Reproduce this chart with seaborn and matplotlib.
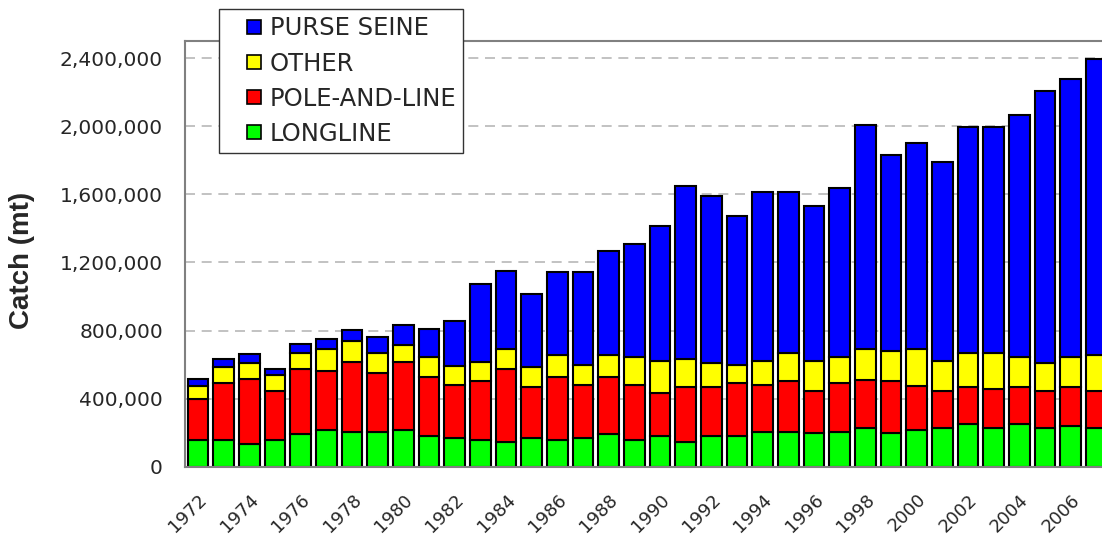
import numpy as np
import pandas as pd
import seaborn as sns
import matplotlib.pyplot as plt
from matplotlib.lines import Line2D
from matplotlib.ticker import FuncFormatter

# catch by gear, metric tons
years = list(range(1972, 2008))
longline = [159, 159, 135, 159, 194, 218, 206, 206, 218, 184, 172, 159,
            149, 172, 159, 169, 196, 159, 182, 149, 182, 182, 204, 204,
            198, 208, 231, 198, 218, 231, 253, 231, 253, 231, 241, 231]
pole_and_line = [239, 333, 381, 288, 381, 343, 413, 345, 401, 344, 308, 343,
                 426, 297, 370, 311, 333, 321, 252, 320, 287, 310, 276, 300,
                 249, 284, 281, 304, 260, 212, 216, 226, 216, 216, 228, 216]
other = [80, 92, 94, 90, 94, 131, 120, 116, 97, 115, 114, 117,
         117, 117, 126, 116, 126, 165, 189, 164, 141, 104, 143, 165,
         176, 153, 180, 180, 214, 180, 200, 212, 176, 163, 176, 208]
purse_seine = [38, 51, 51, 39, 50, 59, 63, 98, 119, 169, 265, 453,
               461, 430, 488, 547, 615, 661, 790, 1016, 982, 876, 993, 947,
               908, 994, 1316, 1147, 1208, 1169, 1325, 1325, 1420, 1596, 1633, 1741]
y_ticks = [0, 400000, 800000, 1200000, 1600000, 2000000, 2400000]

df = pd.DataFrame({
    'year': [str(y) for y in years],
    'LONGLINE': np.array(longline) * 1000,
    'POLE-AND-LINE': np.array(pole_and_line) * 1000,
    'OTHER': np.array(other) * 1000,
    'PURSE SEINE': np.array(purse_seine) * 1000,
})

sns.set_style('white')
plt.rcParams['font.family'] = ['DejaVu Sans']

fig = plt.figure(figsize=(11.02, 5.39), dpi=100)
ax = fig.add_axes([0.168, 0.1336, 0.8385, 0.7904])

layers = [('LONGLINE', '#00ff00'), ('POLE-AND-LINE', '#ff0000'),
          ('OTHER', '#ffff00'), ('PURSE SEINE', '#0000ff')]
bottom = np.zeros(len(df))
for name, color in layers:
    sns.barplot(data=df, x='year', y=name, color=color, saturation=1,
                width=0.81, bottom=bottom, edgecolor='black', linewidth=1.5,
                errorbar=None, ax=ax)
    bottom = bottom + df[name].to_numpy()

ax.set_xlim(-0.5, len(years) - 0.5)
ax.set_ylim(0, 2500000)
ax.set_yticks(y_ticks)
ax.yaxis.set_major_formatter(FuncFormatter(lambda v, p: f'{v:,.0f}'))
ax.set_xticks(range(0, len(years), 2))
ax.set_xticklabels([str(y) for y in years[::2]], rotation=45, ha='right',
                   rotation_mode='anchor')
ax.tick_params(axis='y', direction='in', length=4, color='#808080',
               labelsize=14.5, pad=16)
ax.tick_params(axis='x', length=0, labelsize=13, pad=17)

ax.set_axisbelow(True)
ax.yaxis.grid(True, linestyle=(0, (6, 4)), color='#b8b8b8', linewidth=1.2)
ax.xaxis.grid(False)
for spine in ax.spines.values():
    spine.set_visible(True)
    spine.set_color('#808080')
    spine.set_linewidth(1.5)

ax.set_xlabel('')
ax.set_ylabel('Catch (mt)', fontsize=20, fontweight='bold',
              family=['Liberation Sans', 'DejaVu Sans'])
ax.yaxis.set_label_coords(-0.163, 0.484)

handles = [Line2D([], [], linestyle='none', marker='s', markersize=10,
                  markerfacecolor=c, markeredgecolor='black', markeredgewidth=1.2)
           for _, c in layers[::-1]]
labels = [n for n, _ in layers[::-1]]
leg = fig.legend(handles, labels, loc='upper left',
                 bbox_to_anchor=(0.1987, 0.983), bbox_transform=fig.transFigure,
                 borderaxespad=0, fontsize=17.5, frameon=True, fancybox=False,
                 edgecolor='#333333', framealpha=1, numpoints=1,
                 handlelength=2.28, handletextpad=-0.5, labelspacing=0.46,
                 borderpad=0.3)
leg.get_frame().set_linewidth(1.0)

fig.savefig('out.png', dpi=100)
